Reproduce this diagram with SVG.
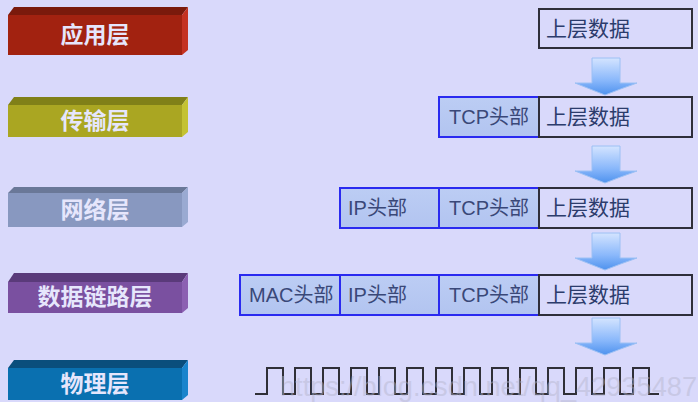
<svg xmlns="http://www.w3.org/2000/svg" width="698" height="402" viewBox="0 0 698 402">
<defs>
<linearGradient id="arrowG" x1="0" y1="0" x2="0" y2="1">
<stop offset="0" stop-color="#d4e4ff"/>
<stop offset="0.6" stop-color="#8ab8fb"/>
<stop offset="1" stop-color="#4e92ee"/>
</linearGradient>
<linearGradient id="hdrG" x1="0" y1="0" x2="0" y2="1">
<stop offset="0" stop-color="#bccdf4"/>
<stop offset="1" stop-color="#b2c4f0"/>
</linearGradient>
<g id="arrow">
<path d="M592,0 H620 V25 H637 Q620,31 605,37 Q590,31 575,25 H592 Z" fill="url(#arrowG)" stroke="#9cc0f4" stroke-width="1"/>
</g>
</defs>
<style>
.bg{fill:#d9d9fb}
.lt{font-family:"Noto Sans CJK SC","Noto Sans CJK JP",sans-serif;font-weight:bold;font-size:23px;fill:#e6e6fc;text-anchor:middle}
.box{fill:none;stroke:#2e2e3a;stroke-width:2}
.hdr{fill:url(#hdrG);stroke:#2a2af0;stroke-width:2}
.bt{font-family:"Liberation Sans","Noto Sans CJK SC",sans-serif;font-size:21px;fill:#2c3c6c}
.ht{font-family:"Liberation Sans","Noto Sans CJK SC",sans-serif;font-size:20px;fill:#3a4878}
.wave{fill:none;stroke:#303038;stroke-width:2}
.wm{font-family:"Liberation Sans",sans-serif;font-size:27px;fill:#b4b4cc;opacity:0.45}
</style>
<rect class="bg" x="0" y="0" width="698" height="402"/>

<g id="layer-app">
<path d="M8,15 L14,7 H188 L182,15 Z" fill="#7a1a0c"/>
<path d="M182,15 L188,7 V50 L182,55 Z" fill="#c43222"/>
<rect x="8" y="15" width="174" height="40" fill="#a22210"/>
<text class="lt" x="95" y="43">应用层</text>
</g>
<g id="layer-transport">
<path d="M8,105 L14,97 H188 L182,105 Z" fill="#808018"/>
<path d="M182,105 L188,97 V132 L182,137 Z" fill="#c4c232"/>
<rect x="8" y="105" width="174" height="32" fill="#aaa622"/>
<text class="lt" x="95" y="129">传输层</text>
</g>
<g id="layer-network">
<path d="M8,193 L14,187 H188 L182,193 Z" fill="#6a7898"/>
<path d="M182,193 L188,187 V222 L182,227 Z" fill="#9aaad2"/>
<rect x="8" y="193" width="174" height="34" fill="#8898c0"/>
<text class="lt" x="95" y="218">网络层</text>
</g>
<g id="layer-datalink">
<path d="M8,282 L14,273 H188 L182,282 Z" fill="#5a3a7a"/>
<path d="M182,282 L188,273 V308 L182,313 Z" fill="#8c60b2"/>
<rect x="8" y="282" width="174" height="31" fill="#7a50a0"/>
<text class="lt" x="95" y="305">数据链路层</text>
</g>
<g id="layer-physical">
<path d="M8,368 L14,360 H188 L182,368 Z" fill="#0a4e7c"/>
<path d="M182,368 L188,360 V395 L182,400 Z" fill="#1a84cc"/>
<rect x="8" y="368" width="174" height="32" fill="#0a70b0"/>
<text class="lt" x="95" y="392">物理层</text>
</g>

<g id="row1">
<rect class="box" x="539" y="9" width="153" height="39"/>
<text class="bt" x="546" y="36">上层数据</text>
</g>
<g id="row2">
<rect class="hdr" x="439" y="97" width="100" height="40"/>
<text class="ht" x="449" y="124">TCP头部</text>
<rect class="box" x="539" y="97" width="153" height="40"/>
<text class="bt" x="546" y="124">上层数据</text>
</g>
<g id="row3">
<rect class="hdr" x="340" y="188" width="99" height="40"/>
<text class="ht" x="348" y="215">IP头部</text>
<rect class="hdr" x="439" y="188" width="100" height="40"/>
<text class="ht" x="449" y="215">TCP头部</text>
<rect class="box" x="539" y="188" width="153" height="40"/>
<text class="bt" x="546" y="215">上层数据</text>
</g>
<g id="row4">
<rect class="hdr" x="240" y="275" width="100" height="40"/>
<text class="ht" x="249" y="302">MAC头部</text>
<rect class="hdr" x="340" y="275" width="99" height="40"/>
<text class="ht" x="348" y="302">IP头部</text>
<rect class="hdr" x="439" y="275" width="100" height="40"/>
<text class="ht" x="449" y="302">TCP头部</text>
<rect class="box" x="539" y="275" width="153" height="40"/>
<text class="bt" x="546" y="302">上层数据</text>
</g>

<g id="connectors">
<use href="#arrow" transform="translate(0,58)"/>
<use href="#arrow" transform="translate(0,146)"/>
<use href="#arrow" transform="translate(0,233)"/>
<use href="#arrow" transform="translate(0,318)"/>
</g>

<g id="signal">
<path class="wave" d="M255,394 H267 V368 H283 V394 H295 V368 H311 V394 H323 V368 H339 V394 H351 V368 H367 V394 H379 V368 H395 V394 H407 V368 H423 V394 H436 V368 H452 V394 H464 V368 H480 V394 H492 V368 H508 V394 H520 V368 H536 V394 H548 V368 H564 V394 H576 V368 H592 V394 H604 V368 H620 V394 H633 V368 H649 V394 H659"/>
</g>
<text class="wm" x="280" y="396" textLength="417" lengthAdjust="spacingAndGlyphs">https://blog.csdn.net/qq_42935487</text>
</svg>
